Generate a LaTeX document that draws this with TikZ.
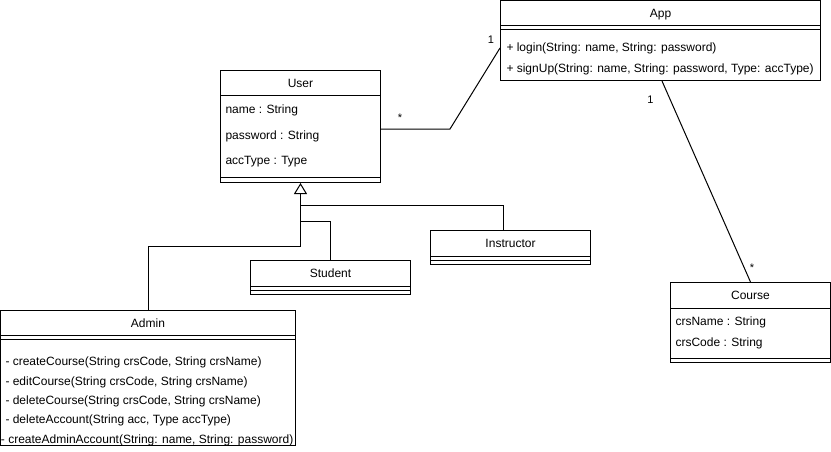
\documentclass[tikz,border=0pt]{standalone}
\usepackage{fontspec}
\setmainfont{Liberation Sans}
\usetikzlibrary{arrows.meta,calc}
\begin{document}
\begin{tikzpicture}[x=1pt,y=-1pt,line width=1pt,
  cls/.style={draw,rectangle,inner sep=0pt,fill=white},
  ttl/.style={inner sep=0pt,text height=8.5pt,text depth=0.5pt,font=\fontsize{12pt}{14pt}\selectfont},
  fld/.style={ttl,anchor=west},
  mult/.style={inner sep=0pt,font=\fontsize{11pt}{13pt}\selectfont}]
\useasboundingbox (0,0) rectangle (831,451);

% App
\node[cls,minimum width=320pt,minimum height=80pt] (app) at (660.5,40.5) {};
\draw ([yshift=-25.5pt]app.north west) -- ([yshift=-25.5pt]app.north east);
\draw ([yshift=-29.5pt]app.north west) -- ([yshift=-29.5pt]app.north east);
\node[ttl] (appT) at ([yshift=-13pt]app.north) {App};
\node[fld] (appM1) at ([xshift=6pt,yshift=-47.5pt]app.north west) {+ login(String: name, String: password)};
\node[fld] (appM2) at ([xshift=6pt,yshift=-68.5pt]app.north west) {+ signUp(String: name, String: password, Type: accType)};

% User
\node[cls,minimum width=160pt,minimum height=112pt] (user) at (300.5,126.5) {};
\draw ([yshift=-25.5pt]user.north west) -- ([yshift=-25.5pt]user.north east);
\draw ([yshift=-107.5pt]user.north west) -- ([yshift=-107.5pt]user.north east);
\node[ttl] (userT) at ([yshift=-13pt]user.north) {User};
\node[fld] (userA1) at ([xshift=5pt,yshift=-39.5pt]user.north west) {name : String};
\node[fld] (userA2) at ([xshift=5pt,yshift=-65.5pt]user.north west) {password : String};
\node[fld] (userA3) at ([xshift=5pt,yshift=-90.5pt]user.north west) {accType : Type};

% Instructor
\node[cls,minimum width=160pt,minimum height=34pt] (instr) at (510.5,247.5) {};
\draw ([yshift=-26pt]instr.north west) -- ([yshift=-26pt]instr.north east);
\draw ([yshift=-30pt]instr.north west) -- ([yshift=-30pt]instr.north east);
\node[ttl] (instrT) at ([yshift=-13pt]instr.north) {Instructor};

% Student
\node[cls,minimum width=160pt,minimum height=34pt] (student) at (330.5,277.5) {};
\draw ([yshift=-26pt]student.north west) -- ([yshift=-26pt]student.north east);
\draw ([yshift=-30pt]student.north west) -- ([yshift=-30pt]student.north east);
\node[ttl] (studentT) at ([yshift=-13pt]student.north) {Student};

% Admin
\node[cls,minimum width=295pt,minimum height=135pt] (admin) at (148,378) {};
\draw ([yshift=-25.5pt]admin.north west) -- ([yshift=-25.5pt]admin.north east);
\draw ([yshift=-29.5pt]admin.north west) -- ([yshift=-29.5pt]admin.north east);
\node[ttl] (adminT) at ([yshift=-13pt]admin.north) {Admin};
\node[fld] (adminM1) at ([xshift=5pt,yshift=-51.2pt]admin.north west) {- createCourse(String crsCode, String crsName)};
\node[fld] (adminM2) at ([xshift=5pt,yshift=-71.2pt]admin.north west) {- editCourse(String crsCode, String crsName)};
\node[fld] (adminM3) at ([xshift=5pt,yshift=-90.5pt]admin.north west) {- deleteCourse(String crsCode, String crsName)};
\node[fld] (adminM4) at ([xshift=5pt,yshift=-109.8pt]admin.north west) {- deleteAccount(String acc, Type accType)};
\node[fld] (adminM5) at ([xshift=0.5pt,yshift=-129.5pt]admin.north west) {- createAdminAccount(String: name, String: password)};

% Course
\node[cls,minimum width=160pt,minimum height=80pt] (course) at (750.5,322.5) {};
\draw ([yshift=-26.5pt]course.north west) -- ([yshift=-26.5pt]course.north east);
\draw ([yshift=-76pt]course.north west) -- ([yshift=-76pt]course.north east);
\node[ttl] (courseT) at ([yshift=-13pt]course.north) {Course};
\node[fld] (courseA1) at ([xshift=5pt,yshift=-39.2pt]course.north west) {crsName : String};
\node[fld] (courseA2) at ([xshift=5pt,yshift=-60.8pt]course.north west) {crsCode : String};

% Associations
\coordinate (bend1) at (450,129);
\draw ([yshift=-2.5pt]user.east) -- (bend1) -- ([yshift=-7.5pt]app.west);
\draw ([xshift=1.5pt]app.south) -- (course.north);
\node[mult] (m1) at (400,118) {*};
\node[mult] (m2) at (491,40) {1};
\node[mult] (m3) at (650.5,99.5) {1};
\node[mult] (m4) at (752,268) {*};

% Generalization
\coordinate (hb) at ([yshift=-12pt]user.south);
\draw (admin.north) -- ++(0,-63.5) -| (hb);
\draw (student.north) -- ++(0,-38.5) -| (hb);
\draw ([xshift=-7pt]instr.north) -- ++(0,-24.5) -| (hb);
\draw[-{Triangle[open,length=11pt,width=13pt]}] (hb) -- (user.south);
\end{tikzpicture}
\end{document}
